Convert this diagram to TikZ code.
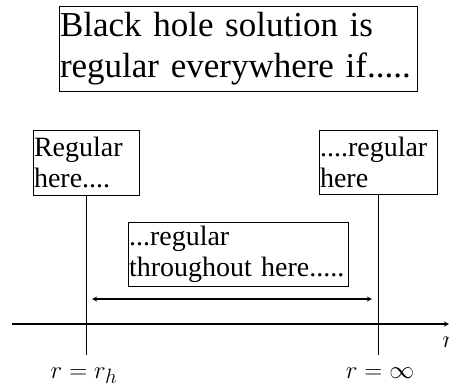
\documentclass[tikz,border=0pt]{standalone}
\usepackage{fontspec}
\setmainfont{Liberation Serif}
\usepackage{amsmath}
\usetikzlibrary{positioning, arrows}

\begin{document}
\begin{tikzpicture}[x=1pt, y=-1pt,
  box/.style={draw, line width=0.9pt, align=left, inner xsep=1pt, inner ysep=0pt, font=\fontsize{28}{31}\selectfont},
  titlebox/.style={box, font=\fontsize{35}{41}\selectfont},
  stem/.style={line width=1pt},
  arr/.style={->, >=stealth, line width=1.3pt},
  lab/.style={font=\fontsize{28}{30}\selectfont}
]
\useasboundingbox (0,0) rectangle (449,389);

\node[titlebox, minimum width=358pt, minimum height=85pt, text width=356pt] (title) at (238,48.5) {Black hole solution is\\regular everywhere if.....};

\node[box, minimum width=106pt, minimum height=65pt, text width=104pt] (hbox) at (86,162.5) {Regular\\here....};
\node[box, minimum width=118pt, minimum height=64pt, text width=116pt] (ibox) at (378,162) {....regular\\here};
\node[box, minimum width=220pt, minimum height=64pt, text width=218pt] (mbox) at (238,254) {...regular\\throughout here.....};

% vertical markers
\coordinate (hend) at (86,355);
\coordinate (iend) at (378,355);
\draw[stem] (hbox.south) -- (hend);
\draw[stem] (ibox.south) -- (iend);

% r axis
\coordinate (axl) at (12,324);
\coordinate (axr) at (449,324);
\draw[arr] (axl) -- (axr);
\node[lab, anchor=base west] (rlab) at (439,347) {$r$};

% interval
\coordinate (inl) at (92,299);
\coordinate (inr) at (372,299);
\draw[arr, <->] (inl) -- (inr);

\node[lab, anchor=base] (hlab) at (84,378) {$r = r_h$};
\node[lab, anchor=base] (ilab) at (380,378) {$r = \infty$};

\end{tikzpicture}
\end{document}
